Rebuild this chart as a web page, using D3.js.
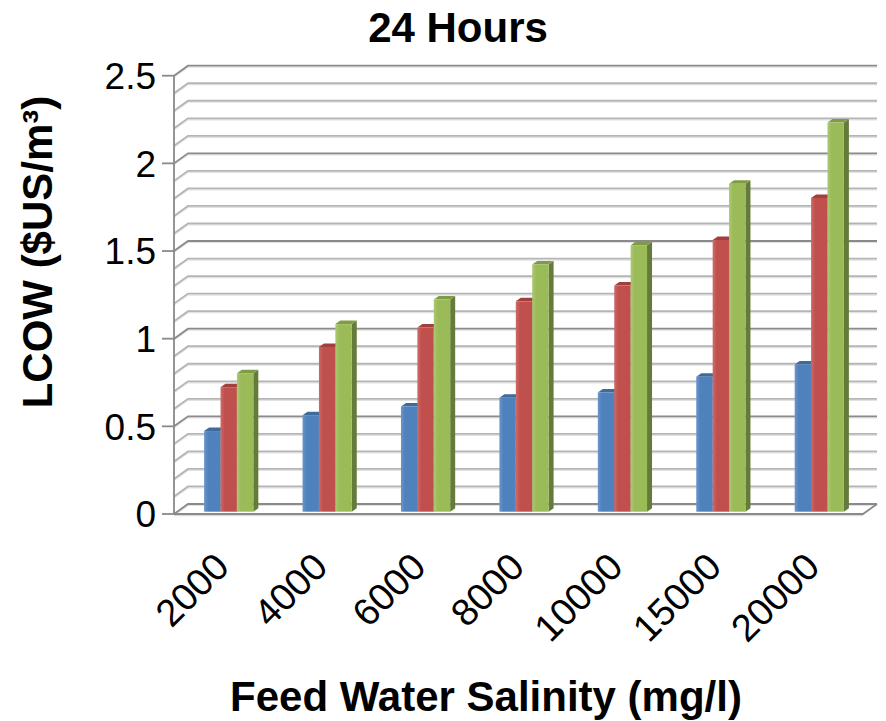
<!DOCTYPE html>
<html><head><meta charset="utf-8">
<script src="https://cdn.jsdelivr.net/npm/d3@7"></script>
<style>body{margin:0;background:#fff}svg{display:block}text{font-family:"Liberation Sans",Arial,sans-serif}</style>
</head><body>
<svg id="c" width="886" height="721"></svg>
<script>
const categories = ["2000","4000","6000","8000","10000","15000","20000"];
const seriesNames = ["Series1","Series2","Series3"];
const blueValues  = [0.46, 0.55, 0.60, 0.65, 0.68, 0.77, 0.84];
const redValues   = [0.71, 0.94, 1.05, 1.20, 1.29, 1.55, 1.79];
const greenValues = [0.79, 1.07, 1.21, 1.41, 1.52, 1.87, 2.22];
const yTicks = [0, 0.5, 1, 1.5, 2, 2.5];
const yTickLabels = ["0","0.5","1","1.5","2","2.5"];
const title = "24 Hours";
const xTitle = "Feed Water Salinity (mg/l)";
const yTitle = "LCOW ($US/m³)";

const series = [blueValues, redValues, greenValues];
const fronts = ["#4F81BD","#C0504D","#9BBB59"];
const lights = ["#6A95CB","#CD6B68","#ADC872"];
const tops   = ["#3F6A9C","#A03F3C","#7F9B47"];
const sides  = ["#34547F","#7E3533","#657B39"];

const svg = d3.select("#c");
const defs = svg.append("defs");
fronts.forEach((f,i) => {
  const g = defs.append("linearGradient").attr("id","g"+i).attr("x1","0").attr("x2","1").attr("y1","0").attr("y2","0");
  g.append("stop").attr("offset","0").attr("stop-color",lights[i]);
  g.append("stop").attr("offset","0.25").attr("stop-color",f);
  g.append("stop").attr("offset","1").attr("stop-color",f);
});

const L = 174, R = 863, Y0 = 514, Y1 = 75.7;
const DX = 14, DY = -10;
const bdx = 5, bdy = -3.5;
const boff = -2.3;

const y = d3.scaleLinear().domain([0,2.5]).range([Y0, Y1]);
const x = d3.scaleBand().domain(categories).range([L, R]).paddingInner(0.5).paddingOuter(0.25);
const xs = d3.scaleBand().domain(d3.range(3)).range([0, x.bandwidth()]);

const grid = svg.append("g");
const gv = d3.range(0, 26).map(i => i/10);
gv.forEach(v => {
  const yy = y(v);
  const major = Math.abs(v*2 - Math.round(v*2)) < 1e-6;
  const col = major ? "#8a8a8a" : "#b5b5b5";
  grid.append("path").attr("d", `M${L},${yy+1.5}L${L+DX},${yy+DY+1.5}L${R+DX},${yy+DY+1.5}`)
    .attr("fill","none").attr("stroke","#e2e2e2").attr("stroke-width",1.2);
  grid.append("path").attr("d", `M${L},${yy}L${L+DX},${yy+DY}L${R+DX},${yy+DY}`)
    .attr("fill","none").attr("stroke",col).attr("stroke-width",1.8);
});
grid.append("path").attr("d", `M${L},${Y0}L${R},${Y0}L${R+DX},${Y0+DY}`)
  .attr("fill","none").attr("stroke","#8a8a8a").attr("stroke-width",1.8);
grid.append("path").attr("d", `M${L},${Y0+1.7}L${R},${Y0+1.7}`)
  .attr("fill","none").attr("stroke","#dcdcdc").attr("stroke-width",1.2);
grid.append("line").attr("x1",L).attr("x2",L).attr("y1",Y1).attr("y2",Y0)
  .attr("stroke","#8a8a8a").attr("stroke-width",1.8);
yTicks.forEach((t,i) => {
  grid.append("line").attr("x1",L-12).attr("x2",L).attr("y1",y(t)).attr("y2",y(t))
    .attr("stroke","#8a8a8a").attr("stroke-width",1.8);
  svg.append("text").attr("x",156).attr("y",y(t)).attr("dy","0.36em")
    .attr("text-anchor","end").attr("font-size",37).attr("fill","#000").text(yTickLabels[i]);
});

const bars = svg.append("g");
categories.forEach((c,ci) => {
  series.forEach((vals,si) => {
    const x0 = x(c) + xs(si) + 5.5, w = xs.bandwidth();
    const yb = y(0) + boff, yt = y(vals[ci]) + boff;
    bars.append("path").attr("d", `M${x0+w},${yt}L${x0+w+bdx},${yt+bdy}L${x0+w+bdx},${yb+bdy}L${x0+w},${yb}Z`).attr("fill",sides[si]);
    bars.append("path").attr("d", `M${x0},${yt}L${x0+bdx},${yt+bdy}L${x0+w+bdx},${yt+bdy}L${x0+w},${yt}Z`).attr("fill",tops[si]);
    bars.append("rect").attr("x",x0).attr("y",yt).attr("width",w).attr("height",yb-yt).attr("fill",`url(#g${si})`);
  });
});

categories.forEach(c => {
  const cx = x(c) + x.bandwidth()/2 + 8;
  svg.append("text").attr("transform",`translate(${cx},${569}) rotate(-45)`)
    .attr("text-anchor","end").attr("font-size",38).attr("fill","#000").text(c);
});

svg.append("text").attr("x",458).attr("y",42).attr("text-anchor","middle")
  .attr("font-size",42).attr("font-weight","bold").text(title);
svg.append("text").attr("x",486).attr("y",711).attr("text-anchor","middle")
  .attr("font-size",42).attr("font-weight","bold").text(xTitle);
svg.append("text").attr("transform","translate(52,252) rotate(-90)").attr("text-anchor","middle")
  .attr("font-size",42).attr("font-weight","bold").text(yTitle);
</script>
</body></html>
